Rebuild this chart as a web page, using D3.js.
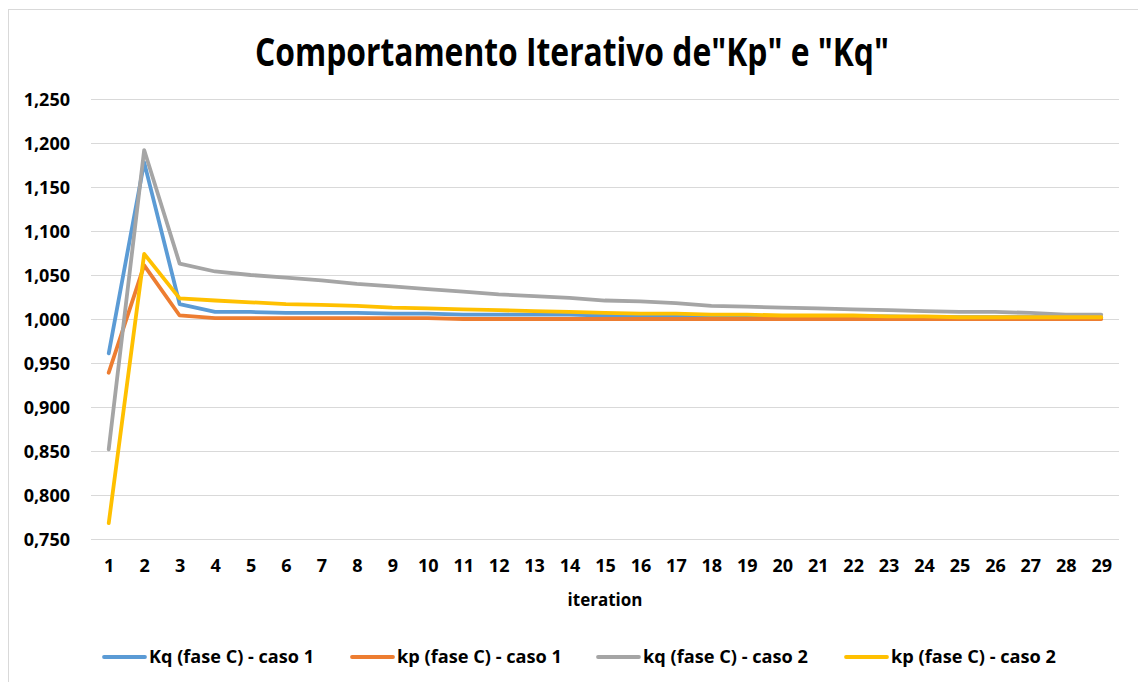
<!DOCTYPE html>
<html><head><meta charset="utf-8">
<script src="https://cdn.jsdelivr.net/npm/d3@7"></script>
<style>
html,body{margin:0;padding:0;background:#fff;}
svg{display:block;}
text{font-family:"Open Sans","Liberation Sans",sans-serif;font-weight:700;fill:#000;}
</style></head>
<body>
<svg id="chart" width="1138" height="682"></svg>
<script>
const iterations = d3.range(1, 30);
const yTicks = [0.75, 0.80, 0.85, 0.90, 0.95, 1.00, 1.05, 1.10, 1.15, 1.20, 1.25];
const seriesNames = ["Kq (fase C) - caso 1", "kp (fase C) - caso 1", "kq (fase C) - caso 2", "kp (fase C) - caso 2"];
const seriesColors = ["#5B9BD5", "#ED7D31", "#A5A5A5", "#FFC000"];
const kqCaso1 = [0.961, 1.178, 1.017, 1.008, 1.008, 1.007, 1.007, 1.007, 1.006, 1.006, 1.005, 1.005, 1.005, 1.005, 1.004, 1.004, 1.004, 1.003, 1.003, 1.003, 1.003, 1.003, 1.003, 1.002, 1.002, 1.002, 1.002, 1.002, 1.002];
const kpCaso1 = [0.939, 1.061, 1.004, 1.001, 1.001, 1.001, 1.001, 1.001, 1.001, 1.001, 1.000, 1.000, 1.000, 1.000, 1.000, 1.000, 1.000, 1.000, 1.000, 1.000, 1.000, 1.000, 1.000, 1.000, 1.000, 1.000, 1.000, 1.000, 1.000];
const kqCaso2 = [0.852, 1.192, 1.063, 1.054, 1.050, 1.047, 1.044, 1.040, 1.037, 1.034, 1.031, 1.028, 1.026, 1.024, 1.021, 1.020, 1.018, 1.015, 1.014, 1.013, 1.012, 1.011, 1.010, 1.009, 1.008, 1.008, 1.007, 1.005, 1.005];
const kpCaso2 = [0.768, 1.074, 1.0235, 1.021, 1.019, 1.017, 1.016, 1.015, 1.013, 1.012, 1.011, 1.010, 1.009, 1.008, 1.007, 1.006, 1.006, 1.005, 1.005, 1.004, 1.004, 1.004, 1.003, 1.003, 1.002, 1.002, 1.002, 1.002, 1.002];
const seriesValues = [kqCaso1, kpCaso1, kqCaso2, kpCaso2];
const titleText = 'Comportamento Iterativo de"Kp" e "Kq"';
const xTitle = "iteration";

const svg = d3.select("#chart");
// chart frame
svg.append("rect").attr("x", 8.5).attr("y", 9.5).attr("width", 1200).attr("height", 700)
  .attr("fill", "#fff").attr("stroke", "#d9d9d9").attr("stroke-width", 1);

const plot = {left: 91, right: 1119, top: 99, bottom: 539};
const x = d3.scalePoint().domain(iterations).range([plot.left, plot.right]).padding(0.5);
const y = d3.scaleLinear().domain([0.75, 1.25]).range([plot.bottom, plot.top]);
const loc = d3.formatLocale({decimal: ",", thousands: ".", grouping: [3], currency: ["", ""]});
const fmt = loc.format(".3f");

// gridlines
svg.append("g").selectAll("line").data(yTicks).join("line")
  .attr("x1", plot.left).attr("x2", plot.right)
  .attr("y1", d => Math.round(y(d)) + 0.5).attr("y2", d => Math.round(y(d)) + 0.5)
  .attr("stroke", "#d9d9d9").attr("stroke-width", 1);

// y axis
const yAxis = svg.append("g").attr("transform", `translate(${plot.left - 21},0)`)
  .call(d3.axisLeft(y).tickValues(yTicks).tickFormat(fmt).tickSize(0).tickPadding(0));
yAxis.select(".domain").remove();
yAxis.selectAll("text").attr("font-size", 18).attr("font-family", '"Open Sans",sans-serif').attr("font-weight", 700).attr("fill", "#000").attr("dy", "0.35em");

// x axis
const xAxis = svg.append("g").attr("transform", `translate(0,${plot.bottom})`)
  .call(d3.axisBottom(x).tickSize(0).tickPadding(20));
xAxis.select(".domain").remove();
xAxis.selectAll("text").attr("font-size", 18).attr("font-family", '"Open Sans",sans-serif').attr("font-weight", 700).attr("fill", "#000");

// lines
const line = d3.line().x((d, i) => x(iterations[i])).y(d => y(d));
svg.append("g").selectAll("path").data(seriesValues).join("path")
  .attr("d", d => line(d)).attr("fill", "none")
  .attr("stroke", (d, i) => seriesColors[i]).attr("stroke-width", 3.8)
  .attr("stroke-linejoin", "round").attr("stroke-linecap", "round");

// title
svg.append("text").attr("x", 572).attr("y", 66).attr("text-anchor", "middle")
  .attr("font-size", 40).attr("textLength", 634).attr("lengthAdjust", "spacingAndGlyphs")
  .text(titleText);

// x title
svg.append("text").attr("x", 605).attr("y", 606).attr("text-anchor", "middle")
  .attr("font-size", 17).text(xTitle);

// legend
const legStarts = [104, 352, 598, 846];
const leg = svg.append("g").selectAll("g").data(seriesNames).join("g")
  .attr("transform", (d, i) => `translate(${legStarts[i]},657)`);
leg.append("line").attr("x1", 0).attr("x2", 41).attr("y1", 0).attr("y2", 0)
  .attr("stroke", (d, i) => seriesColors[i]).attr("stroke-width", 3.8).attr("stroke-linecap", "round");
leg.append("text").attr("x", 45).attr("y", 0).attr("dy", "0.35em")
  .attr("font-size", 18).attr("textLength", 165).attr("lengthAdjust", "spacingAndGlyphs").text(d => d);
</script>
</body></html>
